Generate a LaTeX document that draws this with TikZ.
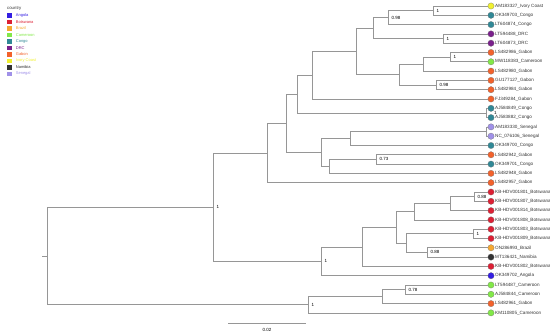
\documentclass[tikz,border=0pt]{standalone}
\usepackage{fontspec}
\setmainfont{Liberation Sans}

% country colours
\definecolor{angola}{RGB}{52,30,226}
\definecolor{botswana}{RGB}{220,32,52}
\definecolor{brazil}{RGB}{245,168,50}
\definecolor{cameroon}{RGB}{130,232,72}
\definecolor{congo}{RGB}{48,136,150}
\definecolor{drc}{RGB}{122,32,140}
\definecolor{gabon}{RGB}{242,98,44}
\definecolor{ivory}{RGB}{240,240,48}
\definecolor{namibia}{RGB}{50,50,50}
\definecolor{senegal}{RGB}{160,145,232}
\definecolor{branchgray}{RGB}{150,150,150}

\tikzset{
  branch/.style={draw=branchgray, line width=0.75pt},
  tip/.style={circle, draw=black!55, line width=0.2pt, minimum size=6.4pt, inner sep=0pt},
  tiplabel/.style={anchor=west, inner sep=0pt, font=\fontsize{4.6}{5}\selectfont, text=black!80},
  support/.style={anchor=west, inner sep=0pt, font=\fontsize{4.5}{5}\selectfont},
  keybox/.style={minimum size=4.5pt, inner sep=0pt},
  keylabel/.style={anchor=west, inner sep=0pt, font=\fontsize{4}{5}\selectfont}
}

\begin{document}
\begin{tikzpicture}[x=1pt, y=-1pt]
  \useasboundingbox (0,0) rectangle (550,334);

  % legend
  \node[keylabel, font=\fontsize{4.3}{5}\selectfont, text=black!80] (keytitle) at (7,9) {country};
  \foreach \c/\name [count=\k from 0] in {angola/Angola, botswana/Botswana, brazil/Brazil,
      cameroon/Cameroon, congo/Congo, drc/DRC, gabon/Gabon, ivory/Ivory Coast,
      namibia/Namibia, senegal/Senegal} {
    \node[keybox, fill=\c] (key\k) at (9.5, {15.3+6.5*\k}) {};
    \node[keylabel, text=\c] (keytext\k) at (15.7, {15.3+6.5*\k}) {\name};
  }

  % tips, top to bottom
  \foreach \name/\c [count=\i from 1] in {AM183327\_Ivory Coast/ivory, OK349703\_Congo/congo,
      LT604874\_Congo/congo, LT594488\_DRC/drc, LT604873\_DRC/drc, LS482986\_Gabon/gabon,
      MW118383\_Cameroon/cameroon, LS482980\_Gabon/gabon, GU177127\_Gabon/gabon,
      LS482984\_Gabon/gabon, FJ349284\_Gabon/gabon, AJ584849\_Congo/congo,
      AJ583882\_Congo/congo, AM183330\_Senegal/senegal, NC\_076106\_Senegal/senegal,
      OK349700\_Congo/congo, LS482942\_Gabon/gabon, OK349701\_Congo/congo,
      LS482948\_Gabon/gabon, LS482957\_Gabon/gabon, KB-HDV001801\_Botswana/botswana,
      KB-HDV001807\_Botswana/botswana, KB-HDV001814\_Botswana/botswana,
      KB-HDV001808\_Botswana/botswana, KB-HDV001803\_Botswana/botswana,
      KB-HDV001809\_Botswana/botswana, ON286993\_Brazil/brazil, MT136421\_Namibia/namibia,
      KB-HDV001802\_Botswana/botswana, OK349702\_Angola/angola, LT594487\_Cameroon/cameroon,
      AJ584844\_Cameroon/cameroon, LS482961\_Gabon/gabon, KM110805\_Cameroon/cameroon} {
    \node[tip, fill=\c] (t\i) at (491, {6+9.3*(\i-1)}) {};
    \node[tiplabel] (tl\i) at (495, {6+9.3*(\i-1)}) {\name};
  }

  % internal nodes
  \coordinate (n1) at (433,10.65);
  \coordinate (n2) at (388,17.6);
  \coordinate (n3) at (443,38.55);
  \coordinate (n4) at (373,28.1);
  \coordinate (n5) at (450,57.15);
  \coordinate (n6) at (423,64.1);
  \coordinate (n7) at (436,85.05);
  \coordinate (n8) at (399,74.6);
  \coordinate (n9) at (356,51.35);
  \coordinate (n10) at (312,75.2);
  \coordinate (n11) at (486,112.95);
  \coordinate (n12) at (297,94.1);
  \coordinate (n13) at (486,131.55);
  \coordinate (n14) at (350,138.5);
  \coordinate (n15) at (376,159.45);
  \coordinate (n16) at (329,166.4);
  \coordinate (n17) at (321,152.45);
  \coordinate (n18) at (286,123.3);
  \coordinate (n19) at (267,153);
  \coordinate (n20) at (474,196.65);
  \coordinate (n21) at (450,203.6);
  \coordinate (n22) at (414,211.75);
  \coordinate (n23) at (473,233.85);
  \coordinate (n24) at (427,252.45);
  \coordinate (n25) at (406,243.15);
  \coordinate (n26) at (396,227.45);
  \coordinate (n27) at (362,246.9);
  \coordinate (n28) at (321,261.3);
  \coordinate (n29) at (213,207.15);
  \coordinate (n30) at (405,289.65);
  \coordinate (n31) at (382,296.6);
  \coordinate (n32) at (308,304.75);
  \coordinate (root) at (47,255.95);
  \coordinate (rootend) at (42,255.95);

  % branches, parent/child
  \foreach \p/\q in {n1/t1, n1/t2, n2/n1, n2/t3, n3/t4, n3/t5, n4/n2, n4/n3,
      n5/t6, n5/t7, n6/n5, n6/t8, n7/t9, n7/t10, n8/n6, n8/n7, n9/n4, n9/n8,
      n10/n9, n10/t11, n11/t12, n11/t13, n12/n10, n12/n11, n13/t14, n13/t15,
      n14/n13, n14/t16, n15/t17, n15/t18, n16/n15, n16/t19, n17/n14, n17/n16,
      n18/n12, n18/n17, n19/n18, n19/t20,
      n20/t21, n20/t22, n21/n20, n21/t23, n22/n21, n22/t24, n23/t25, n23/t26,
      n24/t27, n24/t28, n25/n23, n25/n24, n26/n22, n26/n25, n27/n26, n27/t29,
      n28/n27, n28/t30, n29/n19, n29/n28,
      n30/t31, n30/t32, n31/n30, n31/t33, n32/n31, n32/t34,
      root/n29, root/n32} {
    \draw[branch] (\p) |- (\q);
  }
  \draw[branch] (rootend) -- (root);

  % support values
  \foreach \n/\v in {n1/1, n2/0.98, n3/1, n5/1, n7/0.98, n15/0.73, n20/0.88,
      n23/1, n24/0.88, n28/1, n29/1, n30/0.78, n32/1} {
    \node[support] (s\n) at ([xshift=3.5pt]\n) {\v};
  }
  \node[support] (sn11) at ([xshift=8pt]n11) {1};

  % scale bar
  \coordinate (sbleft) at (228,323);
  \coordinate (sbright) at (306,323);
  \draw[branch] (sbleft) -- (sbright);
  \node[support, anchor=center] (sblabel) at (267,330) {0.02};
\end{tikzpicture}
\end{document}
